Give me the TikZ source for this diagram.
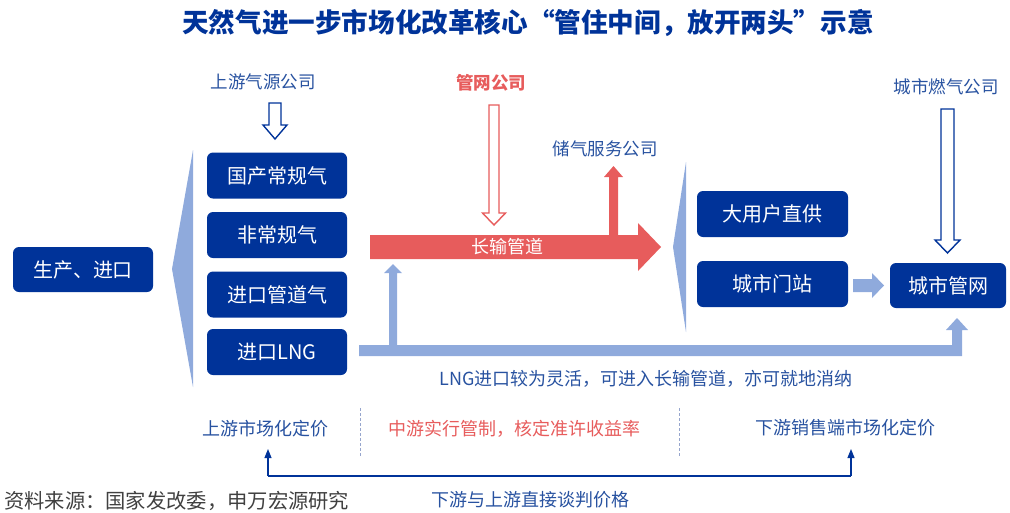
\documentclass[tikz,border=0pt]{standalone}
\usepackage{fontspec}
\setmainfont{Noto Sans CJK SC}
\usetikzlibrary{arrows.meta}
\definecolor{dblue}{RGB}{0,51,153}
\definecolor{lblue}{RGB}{143,170,220}
\definecolor{gred}{RGB}{231,92,92}
\definecolor{tblue}{RGB}{40,82,160}
\definecolor{srcgray}{RGB}{64,64,64}
\definecolor{dashc}{RGB}{150,165,205}
\begin{document}
\begin{tikzpicture}[x=1pt,y=-1pt,
  box/.style={draw=none, fill=dblue, rounded corners=6pt, text=white, font=\fontsize{20}{24}\selectfont, inner sep=0pt, minimum height=46pt},
  lbl/.style={text=tblue, font=\fontsize{17.5}{21}\selectfont, inner sep=0pt},
  blbl/.style={text=tblue, font=\fontsize{18}{21}\selectfont, inner sep=0pt},
  hollowblue/.style={draw=dblue, line width=1.4pt, fill=white, line join=miter},
  hollowred/.style={draw=gred, line width=1.4pt, fill=white, line join=miter},
  sep/.style={draw=dashc, line width=1pt, dash pattern=on 2.5pt off 2.5pt},
  pricearrow/.style={draw=dblue, line width=1.1pt, -{Triangle[length=9pt,width=7pt]}}
]
\useasboundingbox (0,0) rectangle (1010,512);

% title
\node[text=dblue, font=\fontsize{26.6}{30}\selectfont\bfseries, inner sep=0pt] (title) at (528,23) {天然气进一步市场化改革核心“管住中间，放开两头”示意};

% left wedge
\fill[lblue] (193,150) -- (172,269) -- (193,387) -- cycle;
% right wedge
\fill[lblue] (686,162) -- (673,247) -- (686,332) -- cycle;

% boxes
\node[box, minimum width=140pt, minimum height=45pt] (prod) at (83,269.5) {生产、进口};
\node[box, minimum width=140pt] (b1) at (277,175.5) {国产常规气};
\node[box, minimum width=140pt] (b2) at (277,235) {非常规气};
\node[box, minimum width=140pt] (b3) at (277,294.5) {进口管道气};
\node[box, minimum width=140pt] (b4) at (277,352) {进口LNG};
\node[box, minimum width=151pt] (big) at (772.5,214) {大用户直供};
\node[box, minimum width=151pt] (gate) at (772.5,284) {城市门站};
\node[box, minimum width=116pt, minimum height=45pt] (citynet) at (948,285.5) {城市管网};

% top labels
\node[lbl] (upco) at (263,82) {上游气源公司};
\node[lbl, text=gred, font=\fontsize{17.5}{21}\selectfont\bfseries] (pipeco) at (491,83) {管网公司};
\node[lbl] (storco) at (605,149) {储气服务公司};
\node[lbl] (cityco) at (946,87) {城市燃气公司};

% hollow arrows
\draw[hollowblue] (269,103) -- (281,103) -- (281,125) -- (287,125) -- (275,139) -- (263,125) -- (269,125) -- cycle;
\draw[hollowred] (489,105) -- (499,105) -- (499,213) -- (505.5,213) -- (494,225) -- (482.5,213) -- (489,213) -- cycle;
\draw[hollowblue] (941,109) -- (954,109) -- (954,240) -- (960,240) -- (947.5,253) -- (935,240) -- (941,240) -- cycle;

% main red pipeline arrow
\fill[gred] (370,235) -- (638,235) -- (638,223) -- (661,247) -- (638,271) -- (638,259) -- (370,259) -- cycle;
\fill[gred] (609,236) -- (609,177) -- (604,177) -- (613.5,166) -- (623,177) -- (618,177) -- (618,236) -- cycle;
\node[text=white, font=\fontsize{18}{21}\selectfont, inner sep=0pt] (pipe) at (507,247) {长输管道};

% LNG light-blue route
\fill[lblue] (359,345) -- (952,345) -- (952,330) -- (946,330) -- (957,318) -- (968,330) -- (962,330) -- (962,356) -- (359,356) -- cycle;
\fill[lblue] (389,346) -- (389,273) -- (384,273) -- (393,264) -- (402,273) -- (397,273) -- (397,346) -- cycle;
\node[lbl, font=\fontsize{18}{21}\selectfont] (lngtxt) at (646,379) {LNG进口较为灵活，可进入长输管道，亦可就地消纳};

% gate -> city net arrow
\fill[lblue] (853,279) -- (872,279) -- (872,273) -- (884,285.5) -- (872,298) -- (872,292) -- (853,292) -- cycle;

% bottom labels
\node[blbl] (upprice) at (265,429) {上游市场化定价};
\node[blbl, text=gred] (midprice) at (514,429) {中游实行管制，核定准许收益率};
\node[blbl] (downprice) at (845,428) {下游销售端市场化定价};
\draw[sep] (360,408) -- (360,457);
\draw[sep] (679,408) -- (679,457);

% negotiation arrow
\coordinate (nl) at (268,476);
\coordinate (nr) at (851,476);
\draw[pricearrow] (nl) -- (268,449);
\draw[pricearrow] (nr) -- (851,449);
\draw[draw=dblue, line width=1.1pt] (nl) -- (nr);
\node[blbl] (nego) at (530,500) {下游与上游直接谈判价格};

% source
\node[anchor=west, text=srcgray, font=\fontsize{20.3}{24}\selectfont, inner sep=0pt] (src) at (4,501) {资料来源：国家发改委，申万宏源研究};
\end{tikzpicture}
\end{document}
